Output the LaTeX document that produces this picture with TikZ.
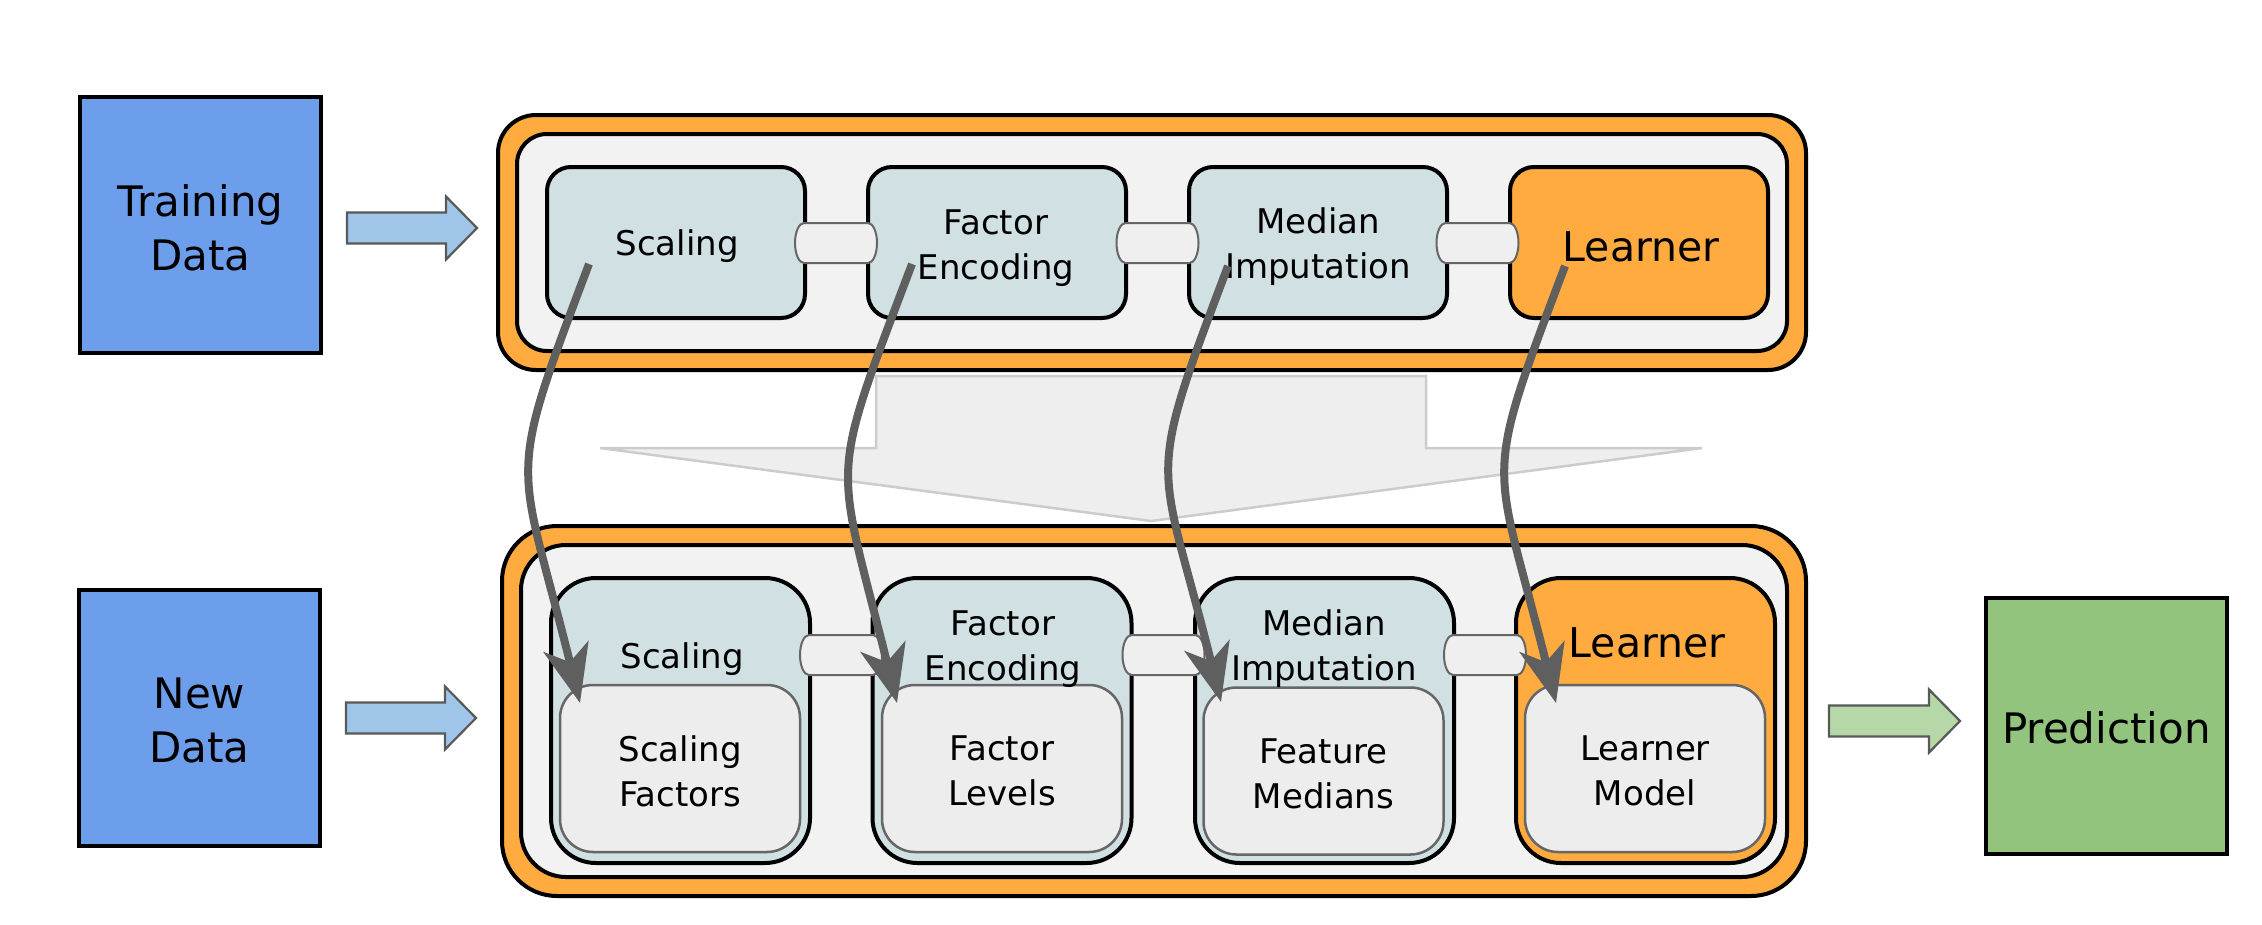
\documentclass[tikz,border=0pt]{standalone}
\usepackage{fontspec}
\setmainfont{DejaVu Sans}
\usetikzlibrary{arrows.meta}
\definecolor{orangeB}{HTML}{FFAB40}
\definecolor{modB}{HTML}{D0E0E3}
\definecolor{panelB}{HTML}{F2F2F2}
\definecolor{innerB}{HTML}{EDEDED}
\definecolor{blueB}{HTML}{6D9EEB}
\definecolor{greenB}{HTML}{93C47D}
\definecolor{arrowBlue}{HTML}{9FC5E8}
\definecolor{arrowGreen}{HTML}{B6D7A8}
\definecolor{connC}{HTML}{5F5F5F}
\definecolor{bigArrow}{HTML}{EEEEEE}
\definecolor{bigArrowLine}{HTML}{CCCCCC}
\definecolor{pipeFill}{HTML}{EFEFEF}
\newcommand\pipeseg[2]{%
  \draw[pipestyle] (#1-32,#2-20) -- (#1+32,#2-20)
    arc[start angle=-90,end angle=90,x radius=9,y radius=20]
    -- (#1-32,#2+20)
    arc[start angle=90,end angle=270,x radius=9,y radius=20] -- cycle;}
\newcommand\blockarrow[4]{%
  \draw[fill=#4,draw=black!65,line width=2.2pt,line join=miter]
    (#1,#3-15.5) -- (#2-31,#3-15.5) -- (#2-31,#3-31.5) -- (#2,#3)
    -- (#2-31,#3+31.5) -- (#2-31,#3+15.5) -- (#1,#3+15.5) -- cycle;}
\begin{document}
\begin{tikzpicture}[x=1pt,y=-1pt,
  databox/.style={draw=black,line width=4pt,minimum width=241pt,minimum height=256pt,
    inner sep=0pt,align=center,font=\fontsize{42}{54}\selectfont},
  outerpanel/.style={draw=black,fill=orangeB,line width=4pt,inner sep=0pt},
  innerpanel/.style={draw=black,fill=panelB,line width=4pt,inner sep=0pt},
  topmod/.style={draw=black,line width=4pt,rounded corners=24pt,minimum width=258pt,
    minimum height=151pt,inner sep=0pt},
  botmod/.style={draw=black,line width=4pt,rounded corners=45pt,minimum width=259pt,
    minimum height=285pt,inner sep=0pt},
  innerbox/.style={draw=black!60,fill=innerB,line width=2.5pt,rounded corners=33pt,
    minimum width=240pt,minimum height=167pt,inner sep=0pt},
  lbl/.style={align=center,inner sep=0pt,font=\fontsize{34}{45}\selectfont},
  biglbl/.style={align=center,inner sep=0pt,font=\fontsize{41}{48}\selectfont},
  pipestyle/.style={draw=black!60,fill=pipeFill,line width=2pt},
  conn/.style={draw=connC,line width=8pt,-{Stealth[length=58pt,width=46pt,inset=16pt]}}
]
\fill[white] (0,0) rectangle (2262,924);
\useasboundingbox (0,0) rectangle (2262,924);

% data boxes
\node[databox,fill=blueB] (train) at (200.5,225) {};
\node[databox,fill=blueB] (new) at (199.5,717.5) {};
\node[databox,fill=greenB] (pred) at (2106.5,726) {};
\node[align=center,inner sep=0pt,font=\fontsize{42}{54}\selectfont] (trainl) at (train.center) [yshift=-3pt] {Training\\Data};
\node[align=center,inner sep=0pt,font=\fontsize{42}{54}\selectfont] (newl) at (new.center) [yshift=-3pt] {New\\Data};
\node[align=center,inner sep=0pt,font=\fontsize{42}{54}\selectfont] (predl) at (pred.center) [yshift=-2pt] {Prediction};

% block arrows
\blockarrow{347}{477}{228}{arrowBlue}
\blockarrow{346}{476}{718}{arrowBlue}
\blockarrow{1829}{1960}{721}{arrowGreen}

% big down arrow
\draw[fill=bigArrow,draw=bigArrowLine,line width=2.5pt,line join=miter]
  (876,376) -- (1426,376) -- (1426,448) -- (1702,448) -- (1151,521)
  -- (600,448) -- (876,448) -- cycle;

% panels
\node[outerpanel,rounded corners=38pt,minimum width=1308pt,minimum height=255pt] (topout) at (1152,242.5) {};
\node[innerpanel,rounded corners=30pt,minimum width=1270pt,minimum height=217pt] (topin) at (1152,242.5) {};
\node[outerpanel,rounded corners=55pt,minimum width=1304pt,minimum height=370pt] (botout) at (1154,711) {};
\node[innerpanel,rounded corners=45pt,minimum width=1266pt,minimum height=332pt] (botin) at (1154,711) {};

% top modules
\node[topmod,fill=modB] (tS) at (676,242.5) {};
\node[topmod,fill=modB] (tF) at (997,242.5) {};
\node[topmod,fill=modB] (tM) at (1318,242.5) {};
\node[topmod,fill=orangeB] (tL) at (1639,242.5) {};
\node[lbl] (tSl) at (677,246) {Scaling};
\node[lbl] (tFl) at (996,248) {Factor\\Encoding};
\node[lbl] (tMl) at (1318,247) {Median\\Imputation};
\node[biglbl] (tLl) at (1641,247) {Learner};

% top pipes
\pipeseg{836}{243}
\pipeseg{1157.5}{243}
\pipeseg{1477.5}{243}

% bottom modules
\node[botmod,fill=modB] (bS) at (680.5,720.5) {};
\node[botmod,fill=modB] (bF) at (1002,720.5) {};
\node[botmod,fill=modB] (bM) at (1324.5,720.5) {};
\node[botmod,fill=orangeB] (bL) at (1645.5,720.5) {};
\node[innerbox] (iS) at (680,768.5) {};
\node[innerbox] (iF) at (1002,768.5) {};
\node[innerbox] (iM) at (1323.5,771) {};
\node[innerbox] (iL) at (1645,768.5) {};
\node[lbl] (iSl) at (680,771) {Scaling\\Factors};
\node[lbl] (iFl) at (1002,771) {Factor\\Levels};
\node[lbl] (iMl) at (1323.5,774) {Feature\\Medians};
\node[lbl] (iLl) at (1645,771) {Learner\\Model};
\node[lbl] (bSl) at (682,659) {Scaling};
\node[lbl] (bFl) at (1003,649) {Factor\\Encoding};
\node[lbl] (bMl) at (1324,649) {Median\\Imputation};
\node[biglbl] (bLl) at (1647,643) {Learner};

% bottom pipes
\pipeseg{841}{655}
\pipeseg{1163.5}{655}
\pipeseg{1485}{655}

% curved connectors
\coordinate (s1) at (589,264);
\coordinate (e1) at (580,703);
\coordinate (s2) at (912,264);
\coordinate (e2) at (897,703);
\coordinate (s3) at (1228,266);
\coordinate (e3) at (1221,702);
\coordinate (s4) at (1565,266);
\coordinate (e4) at (1556,703);
\draw[conn] (s1) .. controls +(-85,225) and +(-62,-250) .. (e1);
\draw[conn] (s2) .. controls +(-85,225) and +(-62,-250) .. (e2);
\draw[conn] (s3) .. controls +(-85,225) and +(-62,-250) .. (e3);
\draw[conn] (s4) .. controls +(-85,225) and +(-62,-250) .. (e4);
\end{tikzpicture}
\end{document}
